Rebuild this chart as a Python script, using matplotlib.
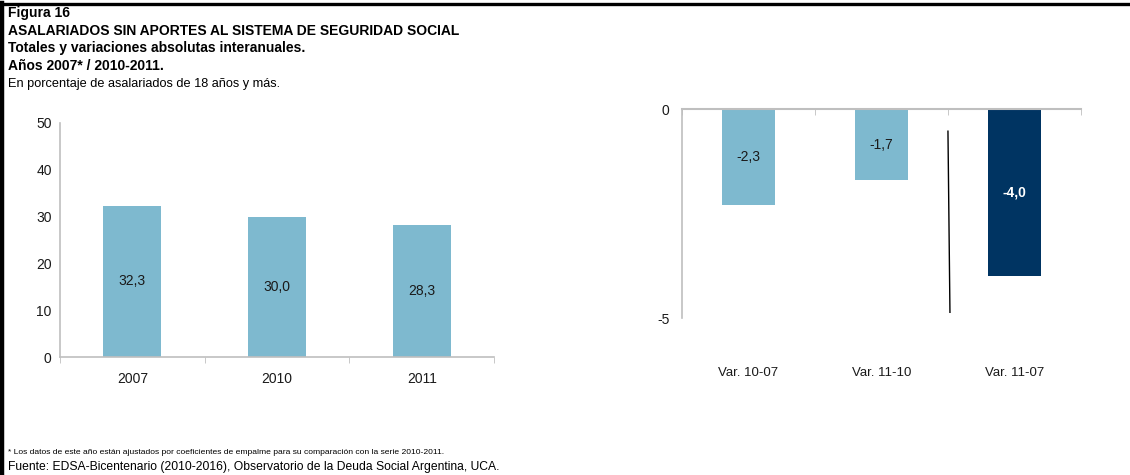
import matplotlib
matplotlib.use("Agg")
import matplotlib.pyplot as plt
from matplotlib import font_manager
from matplotlib.lines import Line2D

plt.rcParams['font.family'] = ['Liberation Sans', 'DejaVu Sans']

# data
years = ["2007", "2010", "2011"]
totals = [32.3, 30.0, 28.3]
var_labels = ["Var. 10-07", "Var. 11-10", "Var. 11-07"]
variations = [-2.3, -1.7, -4.0]
var_colors = ["#7EB9CF", "#7EB9CF", "#003462"]

light_blue = "#7EB9CF"
axis_gray = "#BFBFBF"
text_col = "#1A1A1A"

# footnote uses a narrow face if there is one
names = {f.name for f in font_manager.fontManager.ttflist}
if "Liberation Sans Narrow" in names:
    note_font, note_size = "Liberation Sans Narrow", 7.4
else:
    note_font, note_size = "Liberation Sans", 6.1

fig = plt.figure(figsize=(11.3, 4.75), dpi=100)

# frame lines of the figure box
fig.add_artist(Line2D([0.0015, 0.0015], [0, 0.994], color="black", lw=3.2))
fig.add_artist(Line2D([0, 1], [0.991, 0.991], color="black", lw=2.4))

# header texts
fig.text(0.007, 0.972, "Figura 16", fontsize=10, fontweight="bold", va="center")
fig.text(0.007, 0.934, "ASALARIADOS SIN APORTES AL SISTEMA DE SEGURIDAD SOCIAL",
         fontsize=10, fontweight="bold", va="center")
fig.text(0.007, 0.898, "Totales y variaciones absolutas interanuales.",
         fontsize=10, fontweight="bold", va="center")
fig.text(0.007, 0.862, "Años 2007* / 2010-2011.", fontsize=10, fontweight="bold", va="center")
fig.text(0.007, 0.824, "En porcentaje de asalariados de 18 años y más.", fontsize=9.2, va="center")

# footer
fig.text(0.007, 0.048, "* Los datos de este año están ajustados por coeficientes de empalme "
         "para su comparación con la serie 2010-2011.", fontsize=note_size,
         family=[note_font, "DejaVu Sans"], va="center")
fig.text(0.007, 0.016, "Fuente: EDSA-Bicentenario (2010-2016), Observatorio de la Deuda "
         "Social Argentina, UCA.", fontsize=8.7, va="center")

# left chart: totals
ax1 = fig.add_axes([0.0531, 0.2484, 0.3841, 0.4927])
x1 = range(len(years))
ax1.bar(x1, totals, width=0.4, color=light_blue)
for i, v in zip(x1, totals):
    ax1.text(i, v / 2, f"{v:.1f}".replace(".", ","), ha="center", va="center",
             fontsize=10, color=text_col)
ax1.set_xlim(-0.5, 2.5)
ax1.set_ylim(0, 50)
ax1.set_yticks([0, 10, 20, 30, 40, 50])
ax1.set_xticks(list(x1))
ax1.set_xticklabels(years)
ax1.set_xticks([-0.5, 0.5, 1.5, 2.5], minor=True)
ax1.tick_params(axis="x", which="major", length=0, pad=11, labelsize=10, labelcolor=text_col)
ax1.tick_params(axis="x", which="minor", length=4, color=axis_gray, direction="out")
ax1.tick_params(axis="y", length=0, pad=6, labelsize=10, labelcolor=text_col)
for s in ["top", "right"]:
    ax1.spines[s].set_visible(False)
for s in ["left", "bottom"]:
    ax1.spines[s].set_color(axis_gray)
    ax1.spines[s].set_linewidth(1.2)

# right chart: variations
ax2 = fig.add_axes([0.6035, 0.2421, 0.3531, 0.5284])
x2 = range(len(var_labels))
ax2.bar(x2, variations, width=0.4, color=var_colors)
for i, v in zip(x2, variations):
    dark = var_colors[i] != light_blue
    ax2.text(i, v / 2, f"{v:.1f}".replace(".", ","), ha="center", va="center", fontsize=10,
             color="white" if dark else text_col, fontweight="bold" if dark else "normal")
ax2.plot([1.5, 1.515], [-0.53, -4.86], color="black", lw=1)
ax2.set_xlim(-0.5, 2.5)
ax2.set_ylim(-6, 0)
ax2.set_yticks([0, -5])
ax2.set_yticklabels(["0", "-5"])
ax2.set_xticks(list(x2))
ax2.set_xticklabels(var_labels)
ax2.tick_params(axis="x", which="major", length=0, pad=5, labelsize=9.5, labelcolor=text_col)
ax2.tick_params(axis="y", length=0, pad=9, labelsize=10, labelcolor=text_col)
ax2.set_xticks([-0.5, 0.5, 1.5, 2.5], minor=True)
ax2.tick_params(axis="x", which="minor", top=True, bottom=False, length=4,
                color=axis_gray, direction="in")
ax2.spines["bottom"].set_visible(False)
ax2.spines["right"].set_visible(False)
ax2.spines["top"].set_color(axis_gray)
ax2.spines["top"].set_linewidth(1.5)
ax2.spines["left"].set_color(axis_gray)
ax2.spines["left"].set_linewidth(1.2)
ax2.spines["left"].set_bounds(-5, 0)

fig.savefig("out.png", dpi=100)
